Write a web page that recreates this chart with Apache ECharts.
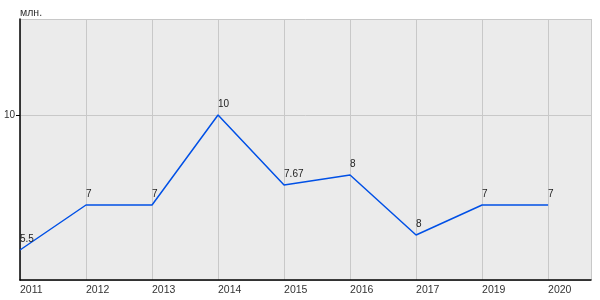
<!DOCTYPE html>
<html><head><meta charset="utf-8">
<script src="https://cdn.jsdelivr.net/npm/echarts@6/dist/echarts.min.js"></script>
<style>html,body{margin:0;padding:0;background:#fff}#c{width:600px;height:300px}</style>
</head><body><div id="c"></div>
<script>
const categories = ['2011','2012','2013','2014','2015','2016','2017','2019','2020'];
const values = [5.5, 7, 7, 10, 7.67, 8, 6, 7, 7];
const pointLabels = ['5.5','7','7','10','7.67','8','8','7','7'];
const unitName = 'млн.';

const chart = echarts.init(document.getElementById('c'), null, {renderer:'canvas'});
const font = 'Liberation Sans, Arial, sans-serif';
chart.setOption({
  animation: false,
  backgroundColor: '#fff',
  grid: {left: 20, right: 9, top: 19, bottom: 20, show: true, backgroundColor: '#ebebeb', borderWidth: 0},
  xAxis: {
    type: 'value', min: 0, max: 8.65, interval: 1,
    axisLine: {show: true, onZero: false, lineStyle: {color: '#000', width: 1.5}},
    axisTick: {show: false},
    splitLine: {show: true, lineStyle: {color: '#c8c8c8', width: 1}},
    axisLabel: {
      showMaxLabel: false, margin: 5, color: '#333', fontSize: 10.5, fontFamily: font, align: 'left',
      formatter: v => categories[Math.round(v)] !== undefined && Math.abs(v - Math.round(v)) < 1e-6 ? categories[Math.round(v)] : ''
    }
  },
  yAxis: {
    type: 'value', min: 4.5, max: 13.2, interval: 5.5,
    name: unitName, nameLocation: 'end', nameGap: 0,
    nameTextStyle: {color: '#333', fontSize: 10.5, fontFamily: font, align: 'left', verticalAlign: 'bottom', padding: [0,0,0,0]},
    axisLine: {show: true, lineStyle: {color: '#000', width: 1.5}},
    axisTick: {show: true, length: 4, lineStyle: {color: '#000'}},
    splitLine: {show: true, lineStyle: {color: '#c8c8c8', width: 1}},
    axisLabel: {showMinLabel: false, showMaxLabel: false, margin: 5, color: '#333', fontSize: 10, fontFamily: font,
      formatter: v => Math.abs(v - 10) < 1e-6 ? '10' : ''}
  },
  series: [{
    type: 'line',
    data: values.map((v, i) => [i, v]),
    showSymbol: true, symbol: 'circle', symbolSize: 1,
    itemStyle: {color: 'rgba(0,0,0,0)', borderWidth: 0},
    lineStyle: {color: '#0050e6', width: 1.5},
    label: {
      show: true, position: 'top', align: 'left', distance: 5,
      color: '#222', fontSize: 10, fontFamily: font,
      formatter: p => pointLabels[p.dataIndex]
    }
  }]
});
</script></body></html>
